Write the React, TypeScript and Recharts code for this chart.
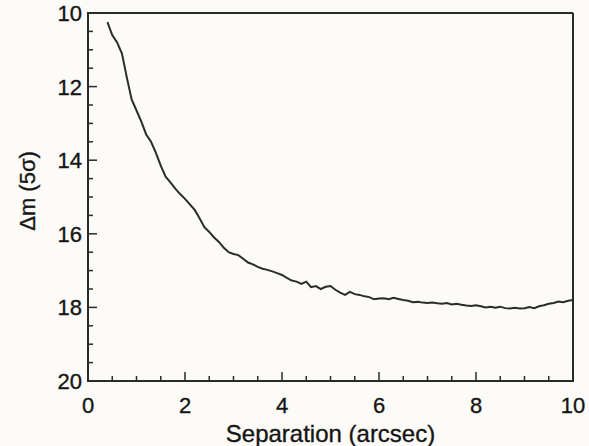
import React from 'react';
import { LineChart, Line, XAxis, YAxis, ReferenceLine } from 'recharts';

const separation = [
  0.4, 0.5, 0.6, 0.7, 0.8, 0.9, 1.0, 1.1, 1.2, 1.3, 1.4, 1.5, 1.6, 1.7, 1.8, 1.9,
  2.0, 2.1, 2.2, 2.3, 2.4, 2.5, 2.6, 2.7, 2.8, 2.9, 3.0, 3.1, 3.2, 3.3, 3.4, 3.5,
  3.6, 3.7, 3.8, 3.9, 4.0, 4.1, 4.2, 4.3, 4.4, 4.5, 4.6, 4.7, 4.8, 4.9, 5.0, 5.1,
  5.2, 5.3, 5.4, 5.5, 5.6, 5.7, 5.8, 5.9, 6.0, 6.1, 6.2, 6.3, 6.4, 6.5, 6.6, 6.7,
  6.8, 6.9, 7.0, 7.1, 7.2, 7.3, 7.4, 7.5, 7.6, 7.7, 7.8, 7.9, 8.0, 8.1, 8.2, 8.3,
  8.4, 8.5, 8.6, 8.7, 8.8, 8.9, 9.0, 9.1, 9.2, 9.3, 9.4, 9.5, 9.6, 9.7, 9.8, 9.9, 10.0,
];

const deltaMag = [
  10.25, 10.6, 10.8, 11.1, 11.75, 12.35, 12.65, 12.95, 13.3, 13.5, 13.8, 14.15, 14.45, 14.6, 14.77, 14.92,
  15.05, 15.2, 15.35, 15.58, 15.82, 15.95, 16.1, 16.22, 16.38, 16.5, 16.55, 16.58, 16.68, 16.78, 16.83, 16.9,
  16.95, 16.98, 17.02, 17.07, 17.12, 17.2, 17.27, 17.3, 17.36, 17.3, 17.45, 17.42, 17.5, 17.44, 17.42, 17.52,
  17.6, 17.66, 17.58, 17.64, 17.66, 17.7, 17.72, 17.78, 17.76, 17.75, 17.78, 17.74, 17.77, 17.8, 17.82, 17.86,
  17.85, 17.87, 17.88, 17.87, 17.89, 17.9, 17.88, 17.92, 17.9, 17.93, 17.95, 17.96, 17.94, 17.97, 18.0, 17.98,
  18.01, 17.98, 18.02, 18.03, 18.01, 18.03, 18.02, 17.99, 18.02, 17.97, 17.94, 17.9, 17.88, 17.84, 17.86, 17.82, 17.8,
];

const xTicks = [0, 0.5, 1, 1.5, 2, 2.5, 3, 3.5, 4, 4.5, 5, 5.5, 6, 6.5, 7, 7.5, 8, 8.5, 9, 9.5, 10];
const yTicks = [10, 10.5, 11, 11.5, 12, 12.5, 13, 13.5, 14, 14.5, 15, 15.5, 16, 16.5, 17, 17.5, 18, 18.5, 19, 19.5, 20];

const xTitle = 'Separation (arcsec)';
const yTitle = 'Δm (5σ)';

const data = separation.map((s, i) => ({ sep: s, dm: deltaMag[i] }));

const INK = '#2a2a2a';
const TEXT = '#151515';
const FONT = '"Liberation Sans", Arial, Helvetica, sans-serif';
const MAJOR = 9;
const MINOR = 5;
// half-length of the frame piece drawn with each tick (more than half a tick gap, so pieces overlap)
const SEG = 13;

const isMajor = (v: number) => Math.abs(v % 2) < 1e-6;
const textStyle = { stroke: TEXT, strokeWidth: 0.35 };

// axis titles are hung off the middle tick of each axis
const X_MID = 5;
const Y_MID = 15;

const X_FIRST = xTicks[0];
const X_LAST = xTicks[xTicks.length - 1];
const Y_FIRST = yTicks[0];
const Y_LAST = yTicks[yTicks.length - 1];

const BottomTick = ({ x, y, payload }: any) => {
  const v = payload.value;
  const major = isMajor(v);
  const sx1 = v === X_FIRST ? x - 1 : x - SEG;
  const sx2 = v === X_LAST ? x + 1 : x + SEG;
  return (
    <g>
      <line x1={sx1} x2={sx2} y1={y} y2={y} stroke={INK} strokeWidth={2} />
      <line x1={x} x2={x} y1={y} y2={y - (major ? MAJOR : MINOR)} stroke={INK} strokeWidth={1.5} />
      {major && (
        <text x={x} y={y + 32} textAnchor="middle" fontSize={22} fontFamily={FONT} fill={TEXT} style={textStyle}>
          {v}
        </text>
      )}
      {v === X_MID && (
        <text x={x} y={y + 61} textAnchor="middle" fontSize={24} fontFamily={FONT} fill={TEXT} style={textStyle}>
          {xTitle}
        </text>
      )}
    </g>
  );
};

const TopTick = ({ x, y, payload }: any) => {
  const major = isMajor(payload.value);
  return <line x1={x} x2={x} y1={y} y2={y + (major ? MAJOR : MINOR)} stroke={INK} strokeWidth={1.5} />;
};

const LeftTick = ({ x, y, payload }: any) => {
  const v = payload.value;
  const major = isMajor(v);
  const tx = x - 61;
  const ty = y - 6;
  // y axis is reversed: first value sits at the top
  const sy1 = v === Y_FIRST ? y - 1 : y - SEG;
  const sy2 = v === Y_LAST ? y + 1 : y + SEG;
  return (
    <g>
      <line x1={x} x2={x} y1={sy1} y2={sy2} stroke={INK} strokeWidth={2} />
      <line x1={x} x2={x + (major ? MAJOR : MINOR)} y1={y} y2={y} stroke={INK} strokeWidth={1.5} />
      {major && (
        <text x={x - 6} y={y} dy="0.36em" textAnchor="end" fontSize={22} fontFamily={FONT} fill={TEXT} style={textStyle}>
          {v}
        </text>
      )}
      {v === Y_MID && (
        <text
          x={tx}
          y={ty}
          dy="0.36em"
          textAnchor="middle"
          transform={`rotate(-90 ${tx} ${ty})`}
          fontSize={22}
          fontFamily={FONT}
          fill={TEXT}
          style={textStyle}
        >
          {yTitle}
        </text>
      )}
    </g>
  );
};

const RightTick = ({ x, y, payload }: any) => {
  const major = isMajor(payload.value);
  return <line x1={x} x2={x - (major ? MAJOR : MINOR)} y1={y} y2={y} stroke={INK} strokeWidth={1.5} />;
};

export default function App() {
  return (
    <div style={{ position: 'absolute', left: 0, top: 0, width: 589, height: 446, background: '#fcfbf7' }}>
      <LineChart width={589} height={446} data={data} margin={{ top: 13, right: 16, left: 0, bottom: 0 }}>
        <XAxis
          dataKey="sep"
          type="number"
          domain={[0, 10]}
          ticks={xTicks}
          interval={0}
          height={65}
          tickSize={0}
          tickMargin={0}
          tickLine={false}
          tick={<BottomTick />}
          axisLine={false}
        />
        <XAxis
          xAxisId="top"
          dataKey="sep"
          orientation="top"
          type="number"
          domain={[0, 10]}
          ticks={xTicks}
          interval={0}
          height={0}
          tickSize={0}
          tickMargin={0}
          tickLine={false}
          tick={<TopTick />}
          axisLine={false}
        />
        <YAxis
          type="number"
          domain={[10, 20]}
          reversed
          ticks={yTicks}
          interval={0}
          width={88}
          tickSize={0}
          tickMargin={0}
          tickLine={false}
          tick={<LeftTick />}
          axisLine={false}
        />
        <YAxis
          yAxisId="right"
          orientation="right"
          type="number"
          domain={[10, 20]}
          reversed
          ticks={yTicks}
          interval={0}
          width={0}
          tickSize={0}
          tickMargin={0}
          tickLine={false}
          tick={<RightTick />}
          axisLine={false}
        />
        <ReferenceLine x={X_LAST} stroke={INK} strokeWidth={2} ifOverflow="visible" />
        <ReferenceLine y={Y_FIRST} stroke={INK} strokeWidth={2} ifOverflow="visible" />
        <Line
          xAxisId="top"
          yAxisId="right"
          type="linear"
          dataKey="dm"
          stroke="none"
          dot={false}
          activeDot={false}
          isAnimationActive={false}
        />
        <Line
          type="linear"
          dataKey="dm"
          stroke="#2b2b2b"
          strokeWidth={2}
          dot={false}
          isAnimationActive={false}
        />
      </LineChart>
    </div>
  );
}
